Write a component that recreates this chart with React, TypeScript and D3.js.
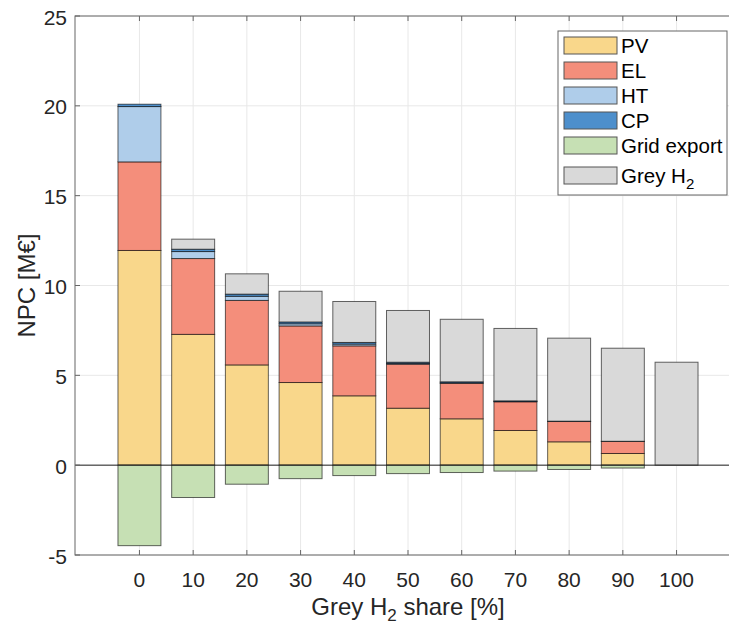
import React from 'react';
import * as d3 from 'd3';

const shares = [0, 10, 20, 30, 40, 50, 60, 70, 80, 90, 100];
const pv = [11.95, 7.28, 5.58, 4.6, 3.86, 3.17, 2.58, 1.93, 1.3, 0.65, 0];
const el = [4.93, 4.22, 3.59, 3.15, 2.78, 2.45, 1.98, 1.6, 1.13, 0.67, 0];
const ht = [3.08, 0.39, 0.23, 0.12, 0.1, 0.04, 0.02, 0.01, 0, 0, 0];
const cp = [0.13, 0.13, 0.12, 0.1, 0.09, 0.07, 0.06, 0.04, 0.02, 0.01, 0];
const greyH2 = [0, 0.56, 1.13, 1.71, 2.28, 2.88, 3.48, 4.03, 4.62, 5.18, 5.73];
const gridExport = [-4.48, -1.8, -1.06, -0.75, -0.58, -0.47, -0.41, -0.33, -0.24, -0.16, 0];
const yTicks = [-5, 0, 5, 10, 15, 20, 25];

const keys = ['PV', 'EL', 'HT', 'CP', 'Grid export', 'Grey H2'];
const colors: Record<string, string> = {
  PV: '#f9d78b',
  EL: '#f48e7b',
  HT: '#afcdea',
  CP: '#4d8fcc',
  'Grid export': '#c6e0b4',
  'Grey H2': '#d9d9d9'
};

const rows = shares.map((s, i) => ({
  share: s,
  PV: pv[i],
  EL: el[i],
  HT: ht[i],
  CP: cp[i],
  'Grid export': gridExport[i],
  'Grey H2': greyH2[i]
}));

const font = '"Liberation Sans", Arial, sans-serif';

export default function App() {
  const width = 729,
    height = 625;
  const left = 75,
    right = 741,
    top = 16,
    bottom = 555;

  const x = d3.scaleLinear().domain([-12, 112]).range([left, right]);
  const y = d3.scaleLinear().domain([-5, 25]).range([bottom, top]);
  const barW = x(8) - x(0);

  const series = d3
    .stack<any>()
    .keys(keys)
    .order(d3.stackOrderNone)
    .offset(d3.stackOffsetDiverging)(rows);

  return (
    <svg width={width} height={height} style={{ display: 'block', position: 'absolute', left: 0, top: 0 }}>
      <rect x={0} y={0} width={width} height={height} fill="#fff" />
      {/* grid */}
      {yTicks.map(t => (
        <line key={'gy' + t} x1={left} x2={right} y1={y(t)} y2={y(t)} stroke="#e8e8e8" />
      ))}
      {shares.map(s => (
        <line key={'gx' + s} x1={x(s)} x2={x(s)} y1={top} y2={bottom} stroke="#e8e8e8" />
      ))}
      {/* bars */}
      {series.map(ser => (
        <g key={ser.key} fill={colors[ser.key]}>
          {ser.map((d, i) => {
            const h = Math.abs(y(d[0]) - y(d[1]));
            if (h < 0.01) return null;
            return (
              <rect
                key={i}
                x={x(rows[i].share) - barW / 2}
                y={Math.min(y(d[0]), y(d[1]))}
                width={barW}
                height={h}
                stroke="#000"
                strokeOpacity={0.6}
                strokeWidth={1}
              />
            );
          })}
        </g>
      ))}
      {/* zero line */}
      <line x1={left} x2={right} y1={y(0)} y2={y(0)} stroke="#222" strokeWidth={1} />
      {/* axes box */}
      <rect x={left} y={top} width={right - left} height={bottom - top} fill="none" stroke="#666" />
      {yTicks.map(t => (
        <g key={'ty' + t}>
          <line x1={left} x2={left + 5} y1={y(t)} y2={y(t)} stroke="#666" />
          <text
            x={left - 8}
            y={y(t) + 1}
            textAnchor="end"
            dominantBaseline="central"
            fontFamily={font}
            fontSize={21}
            fill="#262626"
          >
            {t}
          </text>
        </g>
      ))}
      {shares.map(s => (
        <g key={'tx' + s}>
          <line x1={x(s)} x2={x(s)} y1={bottom} y2={bottom - 5} stroke="#666" />
          <line x1={x(s)} x2={x(s)} y1={top} y2={top + 5} stroke="#666" />
          <text x={x(s)} y={587} textAnchor="middle" fontFamily={font} fontSize={21} fill="#262626">
            {s}
          </text>
        </g>
      ))}
      {/* axis labels */}
      <text x={408} y={615} textAnchor="middle" fontFamily={font} fontSize={24} fill="#262626">
        Grey H
        <tspan dy={6} fontSize={17}>2</tspan>
        <tspan dy={-6}> share [%]</tspan>
      </text>
      <text
        transform={`translate(35, ${(top + bottom) / 2}) rotate(-90)`}
        textAnchor="middle"
        fontFamily={font}
        fontSize={24}
        fill="#262626"
      >
        NPC [M€]
      </text>
      {/* legend */}
      <g>
        <rect x={558} y={31} width={169} height={164} fill="#fff" stroke="#666" />
        {keys.map((k, i) => {
          const yy = 37 + i * 25 + (i === 5 ? 5 : 0);
          return (
            <g key={'lg' + k}>
              <rect x={564} y={yy} width={53} height={17} fill={colors[k]} stroke="#555" />
              <text x={621} y={yy + 16} fontFamily={font} fontSize={20.5} fill="#000">
                {k === 'Grey H2' ? (
                  <>
                    Grey H<tspan dy={6} fontSize={15}>2</tspan>
                  </>
                ) : (
                  k
                )}
              </text>
            </g>
          );
        })}
      </g>
    </svg>
  );
}
